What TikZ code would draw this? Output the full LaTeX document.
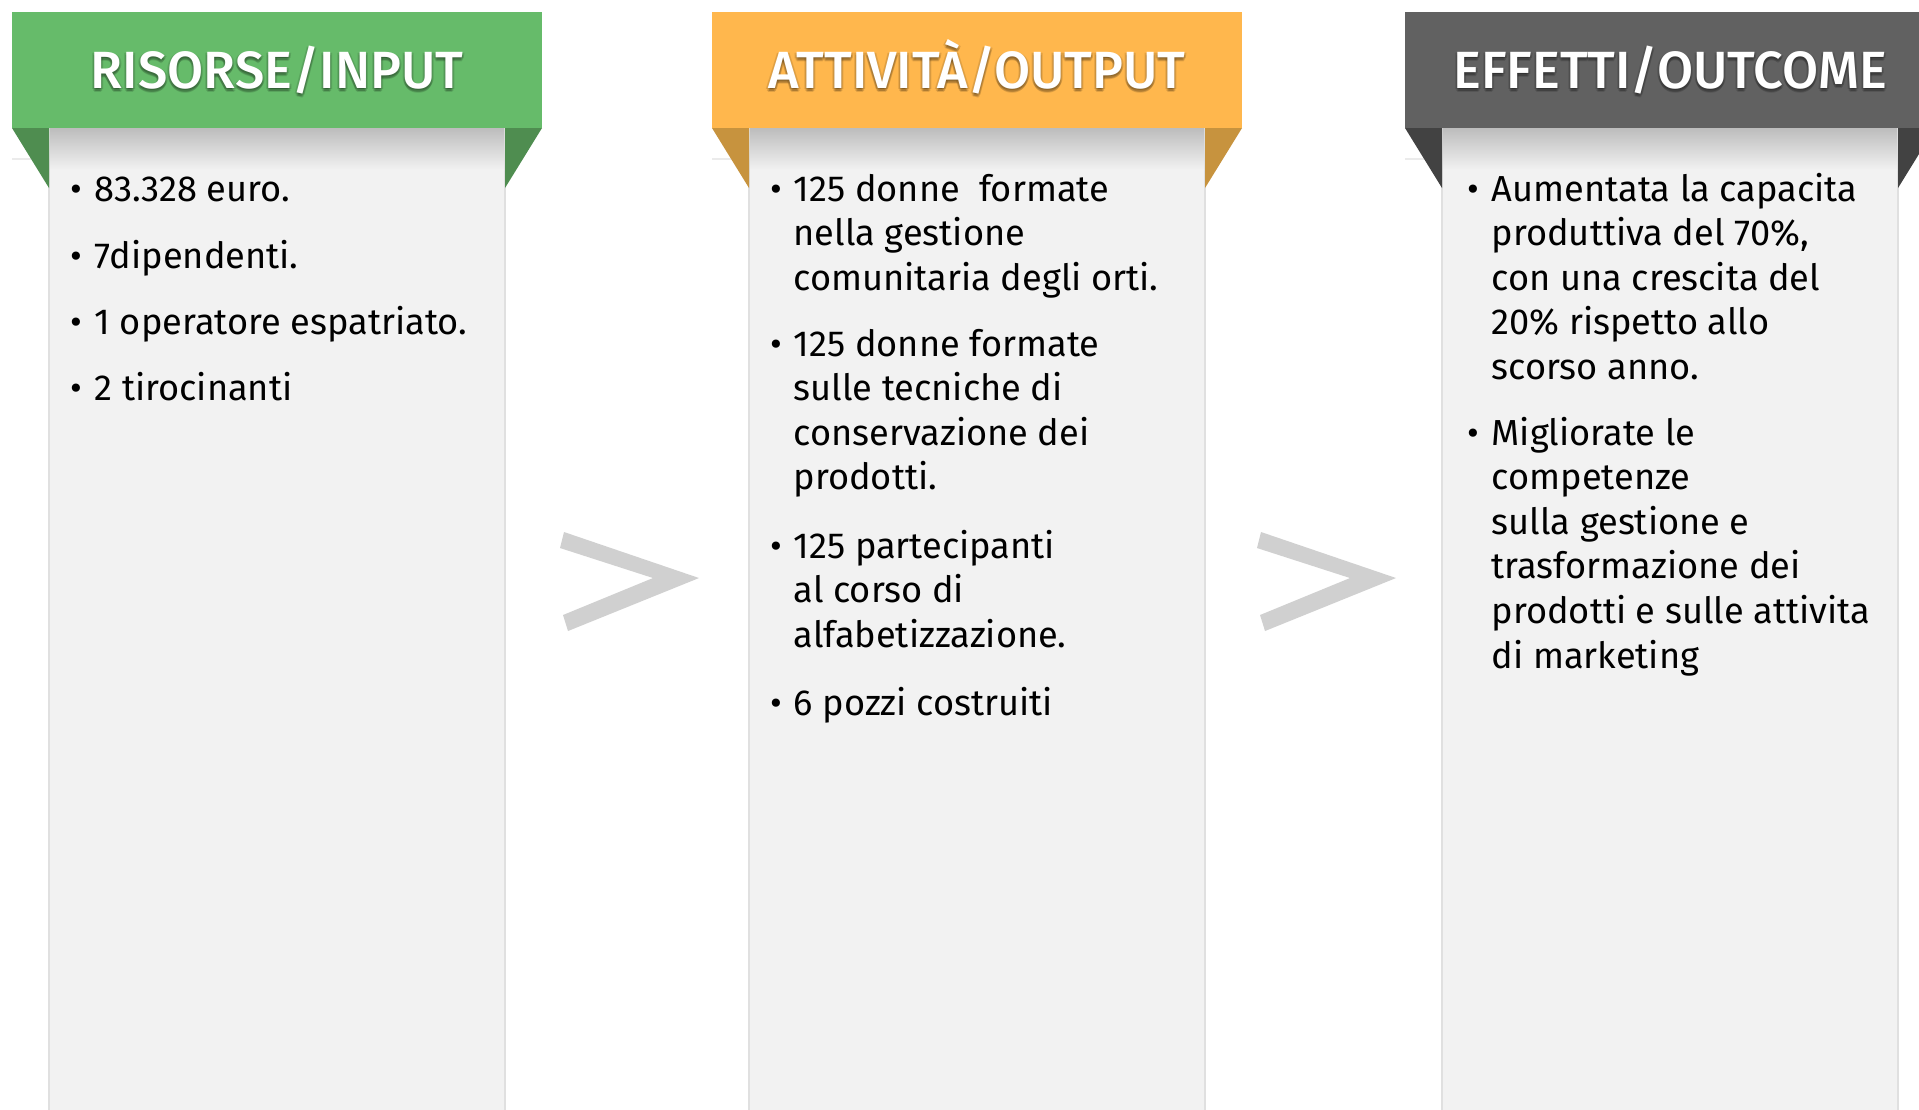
\documentclass[tikz,border=0pt]{standalone}
\usepackage{fontspec}
\setmainfont{Fira Sans}
\newfontfamily\medio{Fira Sans Medium}
\usepackage{tikz}
\usetikzlibrary{calc}
\definecolor{verde}{RGB}{102,187,106}
\definecolor{verdescuro}{RGB}{79,141,80}
\definecolor{arancio}{RGB}{255,183,77}
\definecolor{arancioscuro}{RGB}{199,147,62}
\definecolor{grigio}{RGB}{97,97,97}
\definecolor{grigioscuro}{RGB}{66,66,66}
\definecolor{fondo}{RGB}{242,242,242}
\definecolor{freccia}{RGB}{208,208,208}
\newcommand{\righe}[1]{\begin{tabular}[t]{@{}l@{}}#1\end{tabular}}
\tikzset{
  titolo/.style={font=\fontsize{14.9}{18}\selectfont\medio, text=white, anchor=base, inner sep=0pt},
  ombra/.style={titolo, text=black, opacity=0.12},
  voce/.style={font=\fontsize{10.3}{12.7}\selectfont, anchor=base west, inner sep=0pt},
  punto/.style={font=\fontsize{10.3}{12.7}\selectfont, anchor=base, inner sep=0pt}
}

\begin{document}
\begin{tikzpicture}[line cap=round,line join=round,x=0.1mm,y=-0.1mm]
            \useasboundingbox (0,0) rectangle (1919,1109);
            \clip (0,0) rectangle (1919,1109);
            \fill[white] (0,0) rectangle (1919,1109);
            % colonne
            \foreach \xo/\col/\scuro in {12/verde/verdescuro, 712/arancio/arancioscuro, 1405/grigio/grigioscuro} {
              \fill[black!8] (\xo,158) rectangle (\xo+37,160);
              \filldraw[fill=fondo, draw=black!12, line width=0.5pt] (\xo+37,128) rectangle (\xo+493,1120);
              \shade[top color=black!26, bottom color=fondo] (\xo+38,128) rectangle (\xo+492,170);
              \fill[\scuro] (\xo,128) -- (\xo+37,128) -- (\xo+37,188) -- cycle;
              \fill[\scuro] (\xo+530,128) -- (\xo+493,128) -- (\xo+493,188) -- cycle;
              \fill[\col] (\xo,12) rectangle (\xo+530,128);
            }
            % frecce
            \foreach \dx in {0,697}
              \fill[freccia] (564+\dx,532) -- (699+\dx,578) -- (568+\dx,631) -- (563+\dx,615) -- (653+\dx,578) -- (560+\dx,548) -- cycle;
            % titoli
            \foreach \sx/\sy in {-2/1,2/1,0/4,1/3,-1/3} {
              \node[ombra] at (277+\sx,88+\sy) {RISORSE/INPUT};
              \node[ombra] at (977+\sx,88+\sy) {ATTIVITÀ/OUTPUT};
              \node[ombra] at (1670+\sx,88+\sy) {EFFETTI/OUTCOME};
            }
            \node[titolo] (risorse) at (277,88) {RISORSE/INPUT};
            \node[titolo] (attivita) at (977,88) {ATTIVITÀ/OUTPUT};
            \node[titolo] (effetti) at (1670,88) {EFFETTI/OUTCOME};
            % risorse
            \node[punto] (pr1) at (76,201) {\textbullet};
            \node[voce] (r1) at (94,201) {\righe{83.328 euro.}};
            \node[punto] (pr2) at (76,268) {\textbullet};
            \node[voce] (r2) at (94,268) {\righe{7dipendenti.}};
            \node[punto] (pr3) at (76,334) {\textbullet};
            \node[voce] (r3) at (94,334) {\righe{1 operatore espatriato.}};
            \node[punto] (pr4) at (76,400) {\textbullet};
            \node[voce] (r4) at (94,400) {\righe{2 tirocinanti}};
            % attivita
            \node[punto] (pa1) at (776,201) {\textbullet};
            \node[voce] (a1) at (793,201) {\righe{125 donne~ formate\\ nella gestione\\ comunitaria degli orti.}};
            \node[punto] (pa2) at (776,356) {\textbullet};
            \node[voce] (a2) at (793,356) {\righe{125 donne formate\\ sulle tecniche di\\ conservazione dei\\ prodotti.}};
            \node[punto] (pa3) at (776,558) {\textbullet};
            \node[voce] (a3) at (793,558) {\righe{125 partecipanti\\ al corso di\\ alfabetizzazione.}};
            \node[punto] (pa4) at (776,715) {\textbullet};
            \node[voce] (a4) at (793,715) {\righe{6 pozzi costruiti}};
            % effetti
            \node[punto] (pe1) at (1473,201) {\textbullet};
            \node[voce] (e1) at (1491,201) {\righe{Aumentata la capacita\\ produttiva del 70\%,\\ con una crescita del\\ 20\% rispetto allo\\ scorso anno.}};
            \node[punto] (pe2) at (1473,445) {\textbullet};
            \node[voce] (e2) at (1491,445) {\righe{Migliorate le\\ competenze\\ sulla gestione e\\ trasformazione dei\\ prodotti e sulle attivita\\ di marketing}};
\end{tikzpicture}
\end{document}
